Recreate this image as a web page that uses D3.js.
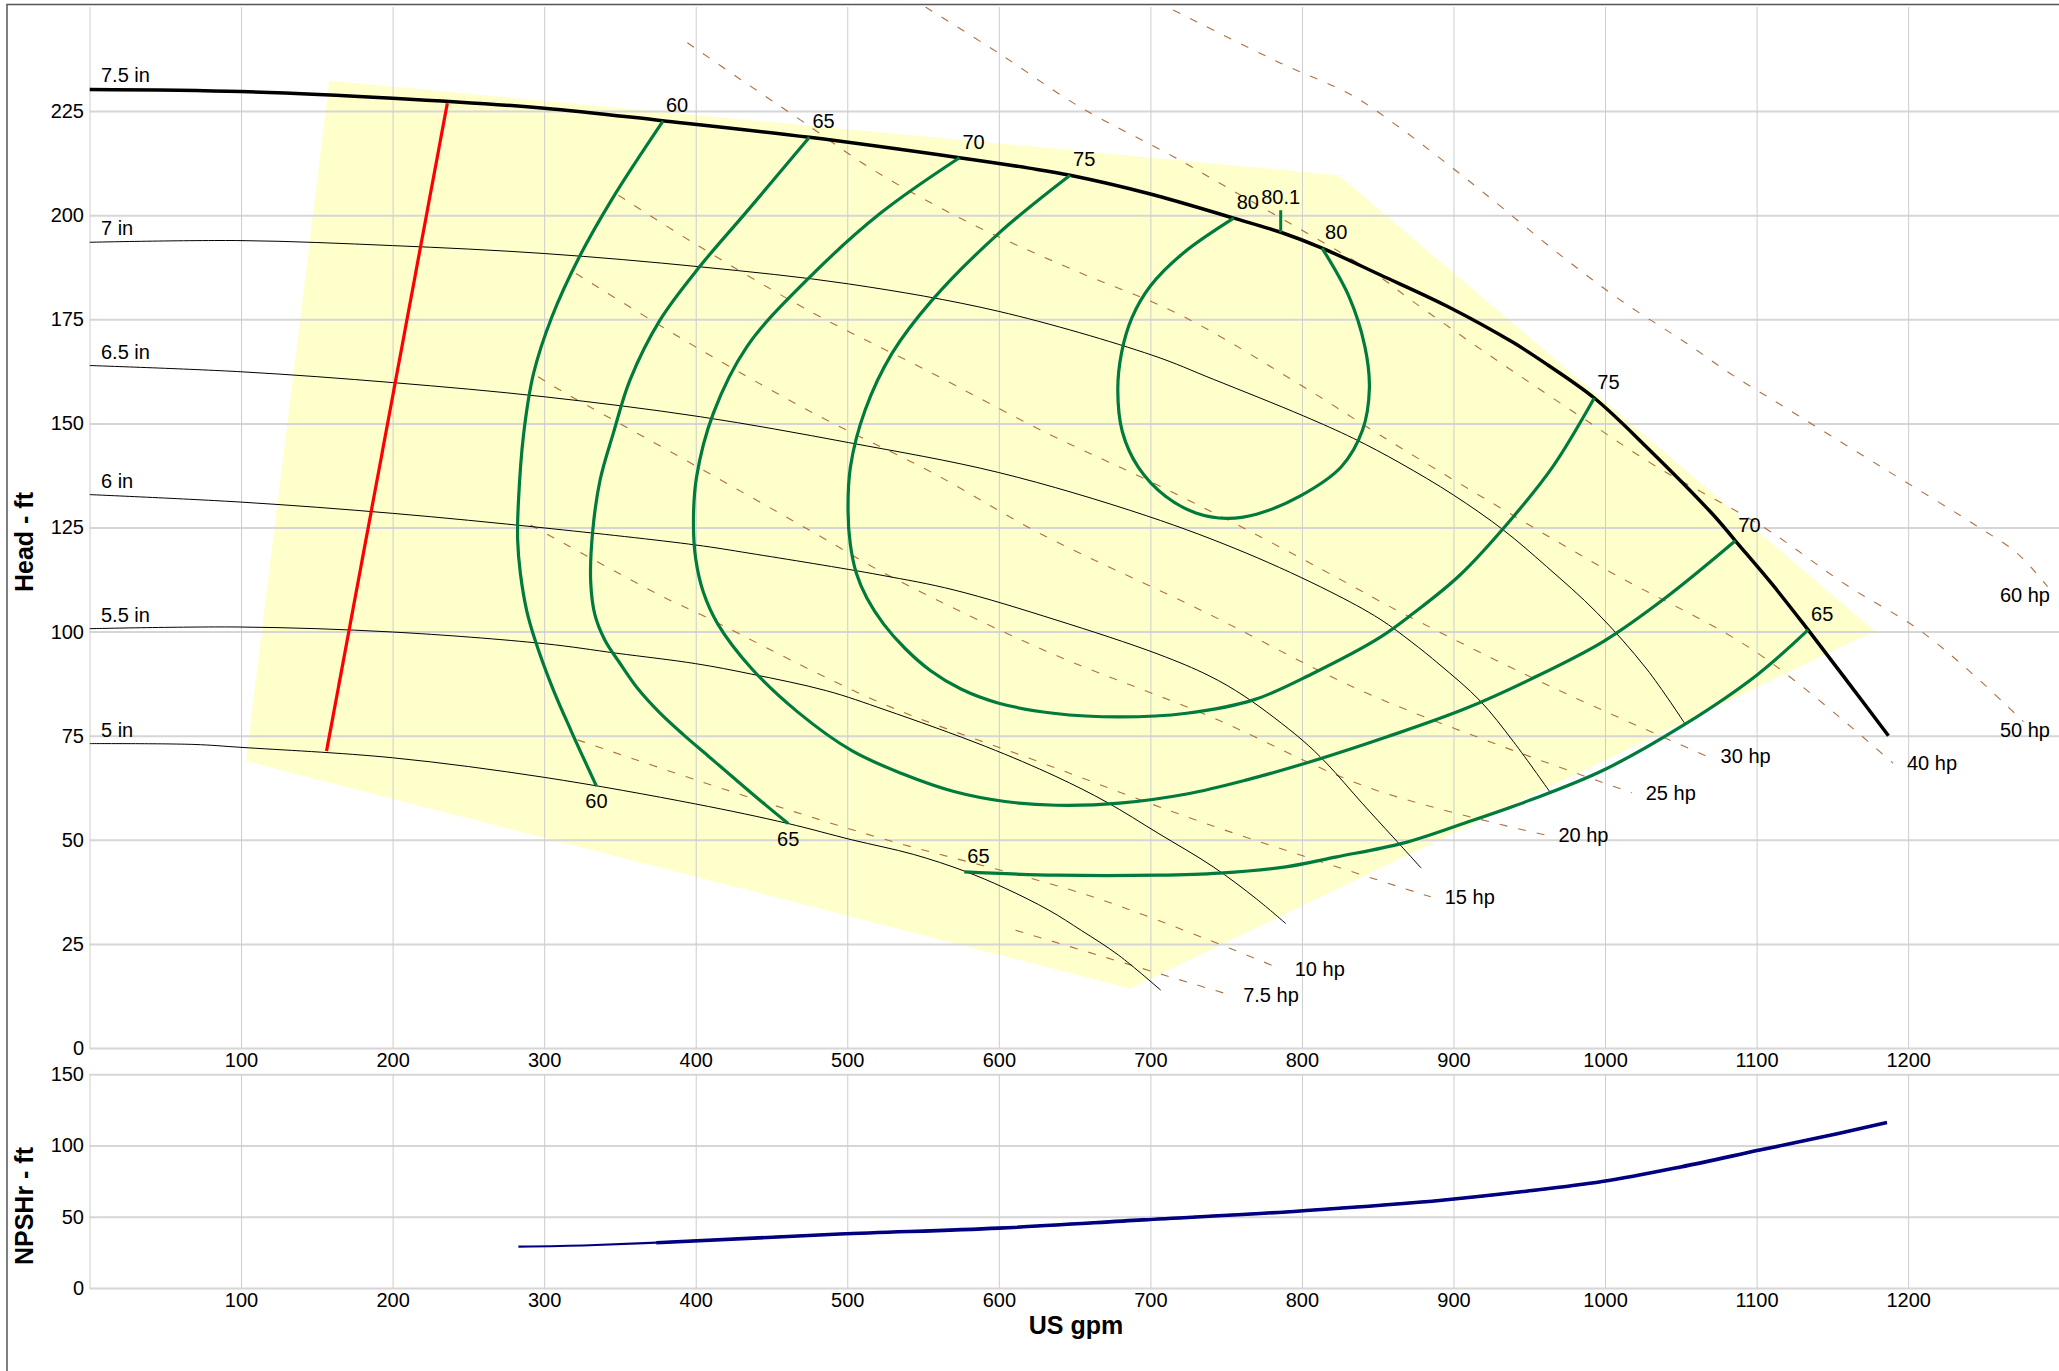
<!DOCTYPE html>
<html><head><meta charset="utf-8">
<script src="https://cdn.jsdelivr.net/npm/d3@7"></script>
<style>
body{margin:0;background:#fff;}
svg text{font-family:"Liberation Sans",Arial,sans-serif;fill:#000;}
</style>
</head><body>
<svg id="chart" width="2059" height="1371"></svg>
<script>
// ---------------- DATA ----------------
const xTicks = [100,200,300,400,500,600,700,800,900,1000,1100,1200];
const xGrid = [0,100,200,300,400,500,600,700,800,900,1000,1100,1200,1300];
const headTicks = [0,25,50,75,100,125,150,175,200,225];
const npshTicks = [0,50,100,150];

const impellerNames = ["7.5 in","7 in","6.5 in","6 in","5.5 in","5 in"];
const imp75 = [[0,230.2],[100,229.7],[200,228.1],[300,225.7],[378,222.7],[475,218.7],[574,213.8],[620,211.3],[647,209.6],[700,205.1],[755,199.3],[786,195.9],[813.3,192.1],[851.5,185.7],[895.5,178.2],[939.5,169.4],[962,164.1],[992.9,156.1],[1027.5,144.3],[1071.5,128],[1086,121.8],[1110,111.5],[1134,100.4],[1160,88],[1187,75]];
const imp70 = [[0,193.5],[100,193.9],[200,192.7],[300,190.8],[403,187.6],[500.8,183.5],[600,176.9],[701,166.4],[741.5,160.6],[801,151.8],[834,146.4],[864.7,140.5],[900,132.8],[932.9,124.4],[961.5,115.6],[994.5,104.6],[1027.5,91],[1052.5,78]];
const imp65 = [[0,163.9],[100,162.4],[200,159.8],[300,156.4],[403,151.6],[500.8,145.4],[600,138.2],[697.6,127.8],[763.6,118.8],[818.6,109.6],[851.5,103],[872,97.6],[891.1,92],[917.5,83.4],[939.5,73.6],[964.2,61.2]];
const imp60 = [[0,132.9],[100,131.1],[200,128.4],[300,124.9],[400,120.8],[435.8,118.8],[521.6,113.6],[570.4,110],[637.7,102.8],[705,94.6],[738.7,89.4],[762.4,84.4],[799.4,74.2],[816.2,68.4],[839.7,58.8],[860,50.7],[878.7,43.2]];
const imp55 = [[0,100.7],[100,101.1],[200,99.9],[300,97.1],[348,94.8],[400,92.3],[436.7,89.8],[486.3,85.8],[525,81.2],[591.4,72.4],[637.7,65.2],[671.4,59],[705,51.6],[741.5,43.5],[770,35.8],[789.3,29.9]];
const imp50 = [[0,73.1],[68.9,72.9],[100,72.2],[200,69.7],[300,65],[400,58.6],[461,53.9],[503,50],[543.6,46.5],[577.2,42.5],[604,38.4],[633,33.1],[654.6,28.2],[679,22.3],[706.8,13.9]];

const effValues = [60,65,70,75,80,65];
const eff60 = [[378.4,222.6],[345,204],[322.5,189.5],[305,175.5],[293,162],[286.5,147.6],[283,131],[282.5,122],[284.3,114],[288.5,105],[294,98],[305.5,86.5],[318,76],[334.5,62.9]];
const eff65a = [[475,218.7],[433.5,200.8],[402.5,187.6],[376.4,174.8],[356.6,160.4],[345.6,147.6],[336.9,136.4],[332,124],[330.7,112],[333.5,104],[340,98],[350,92.4],[362,86.2],[376,80.6],[392,75.2],[408,70.2],[424,65.2],[441,59.9],[461,53.9]];
const eff70 = [[574,213.8],[522,200.5],[473.2,184.4],[433.7,168.4],[411.6,152.4],[400.5,137],[398.5,126],[400,117.5],[405,109.5],[414.6,101.8],[436.7,91.2],[467.6,80.6],[503,71.4],[536.8,65.8],[570.4,61.6],[604.1,59.2],[637.8,58.3],[679.7,58.8],[723.9,61],[763.6,64.4],[806.1,68.8],[856.7,74.8],[907.1,81.4],[951.1,88.6],[998.8,97.6],[1040.6,108.3],[1086,121.8]];
const eff75 = [[647,209.6],[600.1,195.7],[556,179.6],[529.5,166.8],[511.8,153.2],[502.1,139.6],[500.5,129],[502,121],[506,114],[513,108],[524,101.8],[538,96],[555,90.6],[575,86.2],[600,82.8],[636,80.4],[679.7,79.5],[723.9,80.4],[768.1,83.6],[807.5,90],[851.5,98.6],[873.5,104.4],[904.3,113.6],[939.5,127.6],[965.9,139.8],[992.9,156.1]];
const eff80 = [[755,199.3],[722,191],[700,183],[688,175.5],[681,167],[678.5,158],[681.5,148],[692,139.5],[710,132.5],[730,128.5],[750.4,127.2],[770,128.2],[799,132.6],[826,139.6],[840,148.4],[844.5,158.4],[841.5,168.5],[831,180.5],[813.3,192.1]];
const eff65b = [[577.2,42.3],[637.8,41.5],[705.2,41.5],[745.6,42],[789.3,43.5],[823,45.9],[866.7,49.2],[907.1,54],[951.1,59.6],[998.8,66.7],[1052.5,77.7],[1100.3,89.6],[1134,100.4]];
const effEndBelow = [true,true,false,false,false,false];

const bep = {q:786, h:195.9, eff:80.1};

const hpValues = [7.5,10,15,20,25,30,40,50,60];
const hp7_5 = [[611,28.3],[752,12.8]];
const hp10 = [[322,74],[420,62],[522,50.4],[662,36.3],[786,19]];
const hp15 = [[291,125.6],[376,108.8],[406,103.6],[522,82.9],[629,68.4],[739,53.6],[885,36.3]];
const hp20 = [[296,161.2],[310.5,158],[401,139.6],[484,122.5],[522,114.5],[629.4,95.6],[739.4,79.6],[845,62.4],[960,51.2]];
const hp25 = [[321,186],[398,168.8],[478,152.4],[557,138],[627,123.6],[733,105.2],[838,86],[928,73],[1017.6,61.3]];
const hp30 = [[349,204.8],[401,192.8],[478,176.4],[552,162.8],[632,147.6],[698,136.4],[764,124.4],[830,111.6],[858,106],[963,87],[1067,70.1]];
const hp40 = [[394.5,241.4],[430,232.5],[469,222.9],[517,210.9],[581,198.1],[647,187.2],[720,176],[801,158.8],[851.5,147.2],[925,131],[1000,115],[1100,95],[1190,68.4]];
const hp50 = [[551.6,250],[600,238.9],[653,226.1],[715,214.1],[750,206.8],[848,186],[872,179.6],[922,166.8],[984,151.6],[1034,139.6],[1104,125.2],[1160,111],[1205,101],[1234.5,92.4],[1264,82.6],[1276,78.4]];
const hp60 = [[715,249.3],[786,236.5],[832,229],[862,221.7],[891,213.7],[921,205.1],[972,190],[1011,179.4],[1054,169.2],[1082.5,162],[1118,154],[1182,139.6],[1246,125.2],[1272,118.8],[1292,110.8]];

const operatingRegion = [[158.3,232.3],[824.3,209.6],[1177.8,100.2],[686.6,14.3],[103.2,68.9]];
const minFlowLine = [[236.1,226.9],[156.4,71.3]];
const npshr = [[283,29],[330,30],[374,31.8],[495,37.9],[600,42],[695,47.8],[799,54.1],[894,61.8],[946,67.7],[998,74.7],[1050,85],[1102,96.8],[1154,108.5],[1186,116.2]];

// ---------------- CHART ----------------
const W = 2059, H = 1371;
const svg = d3.select("#chart");
const x = d3.scaleLinear().domain([0,1300]).range([89.5, 2059.7]);
const y = d3.scaleLinear().domain([0,250]).range([1048, 7]);
const yN = d3.scaleLinear().domain([0,150]).range([1288, 1074.3]);
const FONT = 20;

const defs = svg.append("defs");
defs.append("clipPath").attr("id","clipTop").append("rect")
  .attr("x", x(0)).attr("y", y(250)).attr("width", x(1300)-x(0)).attr("height", y(0)-y(250));

// frame
svg.append("rect").attr("x",7).attr("y",4.5).attr("width",W).attr("height",H)
  .attr("fill","none").attr("stroke","#555").attr("stroke-width",1.5);

const regionLayer = svg.append("g").attr("clip-path","url(#clipTop)");
const gridLayer = svg.append("g");
const plotLayer = svg.append("g").attr("clip-path","url(#clipTop)");
const labelLayer = svg.append("g");

regionLayer.append("path").datum(operatingRegion)
  .attr("d", d3.line().x(d=>x(d[0])).y(d=>y(d[1])).curve(d3.curveLinearClosed))
  .attr("fill","#ffffcc").attr("stroke","none");

function styleGrid(g, color, width){
  g.select(".domain").remove();
  g.selectAll("line").attr("stroke",color).attr("stroke-width",width);
}
gridLayer.append("g").attr("transform",`translate(${x(0)},0)`)
  .call(d3.axisLeft(y).tickValues(headTicks).tickSize(-(x(1300)-x(0))).tickFormat(""))
  .call(g=>styleGrid(g,"#d6d6d6",2));
gridLayer.append("g").attr("transform",`translate(0,${y(0)})`)
  .call(d3.axisBottom(x).tickValues(xGrid).tickSize(-(y(0)-y(250))).tickFormat(""))
  .call(g=>styleGrid(g,"#cdcdcd",1));
gridLayer.append("g").attr("transform",`translate(${x(0)},0)`)
  .call(d3.axisLeft(yN).tickValues(npshTicks).tickSize(-(x(1300)-x(0))).tickFormat(""))
  .call(g=>styleGrid(g,"#d6d6d6",2));
gridLayer.append("g").attr("transform",`translate(0,${yN(0)})`)
  .call(d3.axisBottom(x).tickValues(xGrid).tickSize(-(yN(0)-yN(150))).tickFormat(""))
  .call(g=>styleGrid(g,"#cdcdcd",1));

function styleLabels(g){
  g.select(".domain").remove();
  g.attr("font-family",null).attr("font-size",null);
  g.selectAll("text").style("font-size",FONT+"px").attr("fill","#000");
}
const fmt = d3.format("d");
labelLayer.append("g").attr("transform",`translate(${x(0)},0)`)
  .call(d3.axisLeft(y).tickValues(headTicks).tickFormat(fmt).tickSize(0).tickPadding(5.5)).call(styleLabels);
labelLayer.append("g").attr("transform",`translate(0,${y(0)})`)
  .call(d3.axisBottom(x).tickValues(xTicks).tickFormat(fmt).tickSize(0).tickPadding(5)).call(styleLabels);
labelLayer.append("g").attr("transform",`translate(${x(0)},0)`)
  .call(d3.axisLeft(yN).tickValues(npshTicks).tickFormat(fmt).tickSize(0).tickPadding(5.5)).call(styleLabels);
labelLayer.append("g").attr("transform",`translate(0,${yN(0)})`)
  .call(d3.axisBottom(x).tickValues(xTicks).tickFormat(fmt).tickSize(0).tickPadding(5)).call(styleLabels);

labelLayer.append("text").attr("transform","translate(24,542) rotate(-90)")
  .attr("text-anchor","middle").attr("dy","0.35em")
  .style("font-size","25px").style("font-weight","bold").text("Head - ft");
labelLayer.append("text").attr("transform","translate(24,1206) rotate(-90)")
  .attr("text-anchor","middle").attr("dy","0.35em")
  .style("font-size","25px").style("font-weight","bold").text("NPSHr - ft");
labelLayer.append("text").attr("x",1076).attr("y",1334).attr("text-anchor","middle")
  .style("font-size","25px").style("font-weight","bold").text("US gpm");

const smooth = d3.curveCatmullRom.alpha(0.5);
const lineXY = d3.line().x(d=>x(d[0])).y(d=>y(d[1])).curve(smooth);

// power lines
const hpLines = [hp7_5,hp10,hp15,hp20,hp25,hp30,hp40,hp50,hp60];
hpLines.forEach((pts,i)=>{
  plotLayer.append("path").datum(pts).attr("d", lineXY)
    .attr("fill","none").attr("stroke","#a4602e").attr("stroke-width",1.1)
    .attr("stroke-dasharray","8,11").attr("stroke-opacity",0.9);
});
hpLines.forEach((pts,i)=>{
  const e = pts[pts.length-1];
  const px = x(e[0]), py = y(e[1]);
  const t = labelLayer.append("text").style("font-size",FONT+"px").text(hpValues[i]+" hp");
  if (px + 14 + 55 > W - 4) {
    t.attr("x", 2050).attr("y", py+15).attr("text-anchor","end");
  } else {
    t.attr("x", px+14).attr("y", py+7).attr("text-anchor","start");
  }
});

// impeller curves
const impellers = [imp75,imp70,imp65,imp60,imp55,imp50];
impellers.forEach((pts,i)=>{
  plotLayer.append("path").datum(pts).attr("d", lineXY)
    .attr("fill","none").attr("stroke","#000")
    .attr("stroke-width", i===0 ? 3.5 : 1);
  labelLayer.append("text").attr("x", x(0)+11.5).attr("y", y(pts[0][1])-7)
    .style("font-size",FONT+"px").text(impellerNames[i]);
});

// efficiency contours
const effCurves = [eff60,eff65a,eff70,eff75,eff80,eff65b];
effCurves.forEach((pts,i)=>{
  plotLayer.append("path").datum(pts).attr("d", lineXY)
    .attr("fill","none").attr("stroke","#007a3d").attr("stroke-width",3.2)
    .attr("stroke-linejoin","round");
});
function effLabelAbove(p, v){
  labelLayer.append("text").attr("x", x(p[0])+3).attr("y", y(p[1])-9)
    .style("font-size",FONT+"px").text(v);
}
function effLabelBelow(p, v){
  labelLayer.append("text").attr("x", x(p[0])).attr("y", y(p[1])+22).attr("text-anchor","middle")
    .style("font-size",FONT+"px").text(v);
}
effCurves.forEach((pts,i)=>{
  effLabelAbove(pts[0], effValues[i]);
  const e = pts[pts.length-1];
  if (effEndBelow[i]) effLabelBelow(e, effValues[i]); else effLabelAbove(e, effValues[i]);
});

// BEP tick
plotLayer.append("line").attr("x1",x(bep.q)).attr("x2",x(bep.q))
  .attr("y1",y(bep.h)).attr("y2",y(bep.h)-22)
  .attr("stroke","#007a3d").attr("stroke-width",3);
labelLayer.append("text").attr("x",x(bep.q)).attr("y",y(bep.h)-28.5).attr("text-anchor","middle")
  .style("font-size",FONT+"px").text(bep.eff);

// minimum flow line
plotLayer.append("path").datum(minFlowLine)
  .attr("d", d3.line().x(d=>x(d[0])).y(d=>y(d[1])))
  .attr("fill","none").attr("stroke","#ff0000").attr("stroke-width",3.2);

// NPSHr
const npshLine = d3.line().x(d=>x(d[0])).y(d=>yN(d[1])).curve(d3.curveMonotoneX);
svg.append("path").datum(npshr).attr("d", npshLine)
  .attr("fill","none").attr("stroke","#000080").attr("stroke-width",2.2);
svg.append("path").datum(npshr.filter(d=>d[0]>=374)).attr("d", npshLine)
  .attr("fill","none").attr("stroke","#000080").attr("stroke-width",3.6);
</script>
</body></html>
